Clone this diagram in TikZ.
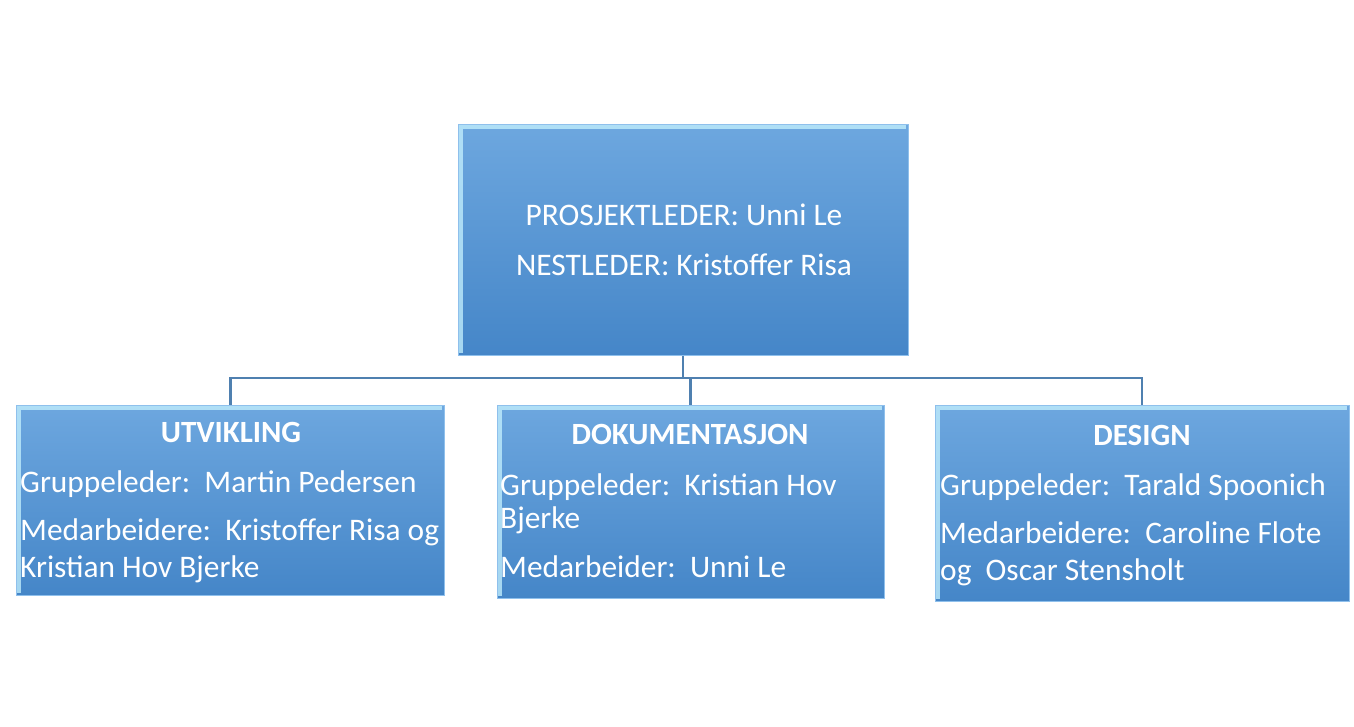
\documentclass[tikz,border=0pt]{standalone}
\usepackage{fontspec}
\setmainfont{Carlito}
\definecolor{boxtop}{HTML}{6DA7DF}
\definecolor{boxbot}{HTML}{4586C8}
\definecolor{boxedge}{HTML}{8FC0EC}
\definecolor{bevel}{HTML}{C6F2FF}
\definecolor{conncol}{HTML}{4F80B0}
\tikzset{
  orgbox/.style={rectangle, draw=boxedge, line width=1bp, top color=boxtop, bottom color=boxbot, inner sep=0pt},
  txt/.style={text=white, inner sep=0pt, font=\fontsize{31.5}{38}\selectfont},
  ttl/.style={txt, font=\fontsize{31}{38}\selectfont\bfseries},
  conn/.style={draw=conncol, line width=2.2bp},
  bev/.style={draw=bevel, line width=4bp, opacity=0.75}
}
\begin{document}
\begin{tikzpicture}[x=1bp,y=-1bp]
\useasboundingbox (0,0) rectangle (1354,726);
% boxes
\node[orgbox, minimum width=450bp, minimum height=230bp] (top) at (683,240) {};
\node[orgbox, minimum width=427bp, minimum height=190bp] (left) at (230.5,500) {};
\node[orgbox, minimum width=387bp, minimum height=193bp] (mid) at (690.5,501.5) {};
\node[orgbox, minimum width=414bp, minimum height=196bp] (right) at (1142,503) {};
% bevels
\foreach \b in {top,left,mid,right}{
  \draw[bev] ([xshift=3bp,yshift=3bp]\b.south west) -- ([xshift=3bp,yshift=-3bp]\b.north west) -- ([xshift=-3bp,yshift=-3bp]\b.north east);
}
% connectors
\coordinate (bus) at (0,378);
\draw[conn] (top.south) -- (top.south |- bus);
\draw[conn] (left.north) |- (bus -| right.north) -- (right.north);
\draw[conn] (mid.north) -- (mid.north |- bus);
% top text
\node[txt, anchor=base] (t1) at (684,225) {PROSJEKTLEDER: Unni Le};
\node[txt, anchor=base] (t2) at (684,275) {NESTLEDER: Kristoffer Risa};
% left text
\node[ttl, anchor=base] (l0) at (231,442) {UTVIKLING};
\node[txt, anchor=base west] (l1) at (20,492) {Gruppeleder:\ \ Martin\ Pedersen};
\node[txt, anchor=base west] (l2) at (20,540) {Medarbeidere:\ \ Kristoffer Risa og};
\node[txt, anchor=base west] (l3) at (20,577) {Kristian Hov Bjerke};
% middle text
\node[ttl, anchor=base] (m0) at (690,444) {DOKUMENTASJON};
\node[txt, anchor=base west] (m1) at (500,495) {Gruppeleder:\ \ Kristian Hov};
\node[txt, anchor=base west] (m2) at (500,528) {Bjerke};
\node[txt, anchor=base west] (m3) at (500,577) {Medarbeider:\ \ Unni\ Le};
% right text
\node[ttl, anchor=base] (r0) at (1142,445) {DESIGN};
\node[txt, anchor=base west] (r1) at (940,495) {Gruppeleder:\ \ Tarald Spoonich};
\node[txt, anchor=base west] (r2) at (940,543) {Medarbeidere:\ \ Caroline Flote};
\node[txt, anchor=base west] (r3) at (940,580) {og\ \ Oscar Stensholt};
\end{tikzpicture}
\end{document}
